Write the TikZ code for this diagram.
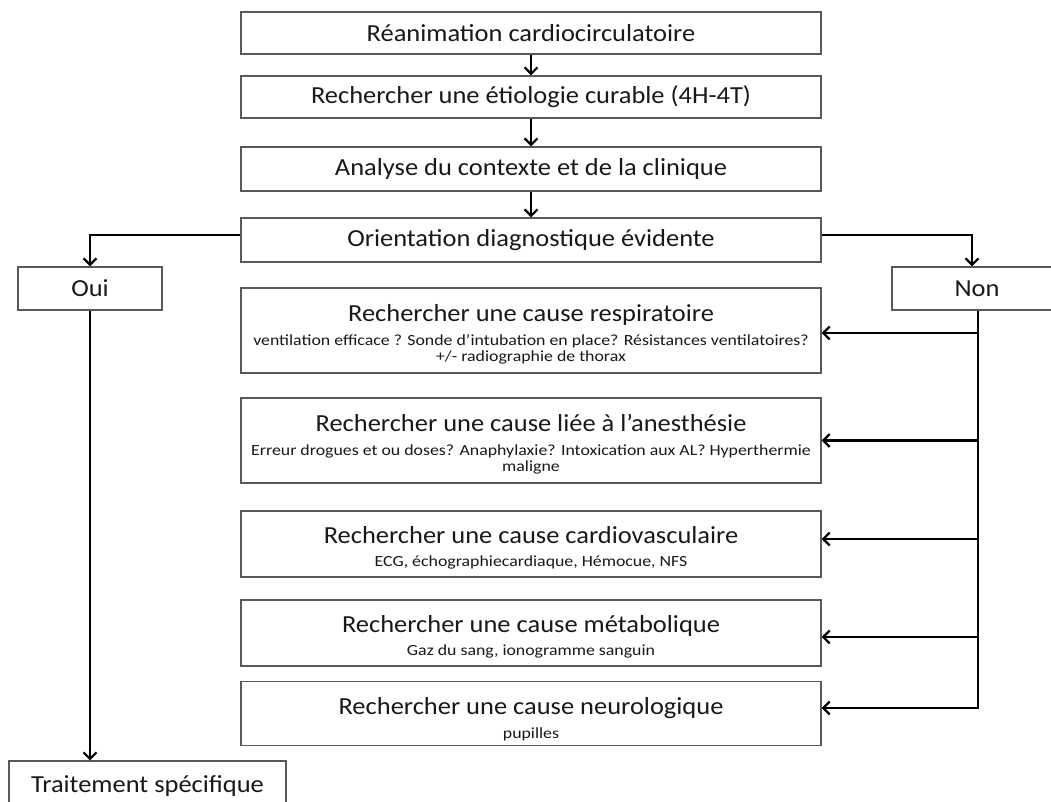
\documentclass[tikz,border=0pt]{standalone}
\usepackage{fontspec}
\setmainfont{Carlito}[FakeStretch=1.08]
\newfontfamily\subf{Carlito}[FakeStretch=1.15]
\usetikzlibrary{arrows.meta}
\newcommand{\ttl}{\fontsize{24.5}{28}\selectfont}
\newcommand{\sbt}{\subf\fontsize{15.5}{15}\selectfont}
\begin{document}
\begin{tikzpicture}[x=1pt,y=1pt,
  box/.style={draw=black!65, line width=1.3pt, fill=white, minimum width=580pt, inner sep=2pt, align=center, font=\ttl, text=black!90},
  ttext/.style={anchor=base, inner sep=0pt, font=\ttl, text=black!90},
  stext/.style={anchor=base, inner sep=0pt, font=\sbt, text=black!90},
  conn/.style={line width=2.8pt, black},
  arr/.style={conn, -{Straight Barb[length=6.5pt,width=13pt,line width=2.2pt]}}
]
\useasboundingbox (0,0) rectangle (1051,-801);
\node[box, minimum height=42pt] (b1) at (531,-33) {Réanimation cardiocirculatoire};
\node[box, minimum height=42pt] (b2) at (531,-97) {Rechercher une étiologie curable (4H-4T)};
\node[box, minimum height=44pt] (b3) at (531,-169) {Analyse du contexte et de la clinique};
\node[box, minimum height=44pt] (b4) at (531,-240) {Orientation diagnostique évidente};
\node[box, minimum width=144pt, minimum height=43pt] (oui) at (90,-288.5) {Oui};
\node[box, minimum width=170pt, minimum height=43pt] (non) at (977,-288.5) {Non};
% cause boxes
\node[box, minimum height=85pt] (resp) at (531,-330.5) {};
\node[ttext] (respT) at (531,-321) {Rechercher une cause respiratoire};
\node[stext] (respS1) at (531,-345) {ventilation efficace ? Sonde d’intubation en place? Résistances ventilatoires?};
\node[stext] (respS2) at (531,-361) {+/- radiographie de thorax};
\node[box, minimum height=85pt] (anes) at (531,-440.5) {};
\node[ttext] (anesT) at (531,-431) {Rechercher une cause liée à l’anesthésie};
\node[stext] (anesS1) at (531,-455) {Erreur drogues et ou doses? Anaphylaxie? Intoxication aux AL? Hyperthermie};
\node[stext] (anesS2) at (531,-471) {maligne};
\node[box, minimum height=66pt] (card) at (531,-544) {};
\node[ttext] (cardT) at (531,-543) {Rechercher une cause cardiovasculaire};
\node[stext] (cardS) at (531,-566) {ECG, échographiecardiaque, Hémocue, NFS};
\node[box, minimum height=66pt] (meta) at (531,-633) {};
\node[ttext] (metaT) at (531,-632) {Rechercher une cause métabolique};
\node[stext] (metaS) at (531,-655) {Gaz du sang, ionogramme sanguin};
\node[box, minimum height=64pt] (neur) at (531,-713.5) {};
\node[ttext] (neurT) at (531,-714) {Rechercher une cause neurologique};
\node[stext] (neurS) at (531,-738) {pupilles};
\node[box, minimum width=277pt, minimum height=44pt] (trt) at (147.5,-783) {};
\node[ttext] (trtT) at (147.5,-792) {Traitement spécifique};

\draw[arr] (b1) -- (b2);
\draw[arr] (b2) -- (b3);
\draw[arr] (b3) -- (b4);
\draw[arr] ([yshift=5pt]b4.west) -| (oui.north);
\draw[arr] ([yshift=5pt]b4.east) -| ([xshift=-5pt]non.north);
\draw[arr] (oui.south) -- (oui.south |- trt.north);
\coordinate (nv) at ([xshift=1pt]non.south);
\draw[arr] (nv) |- (neur.east |- 0,-708);
\draw[arr] (nv |- 0,-333) -- (resp.east |- 0,-333);
\draw[arr] (nv |- anes.east) -- (anes.east);
\draw[arr] (nv |- 0,-539) -- (card.east |- 0,-539);
\draw[arr] (nv |- 0,-637) -- (meta.east |- 0,-637);
\end{tikzpicture}
\end{document}
